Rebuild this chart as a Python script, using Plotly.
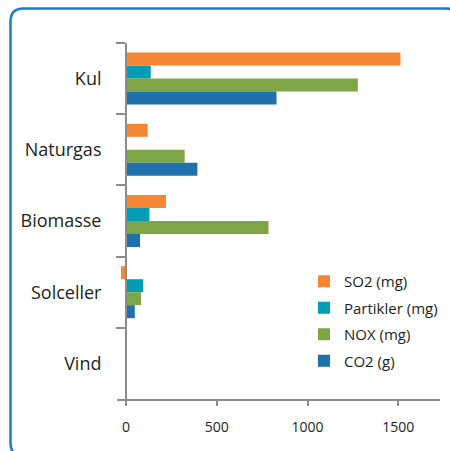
import plotly.graph_objects as go

categories = ["Kul", "Naturgas", "Biomasse", "Solceller", "Vind"]
series_names = ["SO2 (mg)", "Partikler (mg)", "NOX (mg)", "CO2 (g)"]
so2 = [1512, 119, 220, -28, 0]
partikler = [136, 0, 129, 94, 0]
nox = [1277, 323, 785, 83, 0]
co2 = [829, 393, 77, 48, 0]
colors = ["#F58634", "#009DB5", "#7FA646", "#1E71AB"]
x_ticks = [0, 500, 1000, 1500]

W, H = 450, 451
ML, MR, MT, MB = 117, 10, 43, 52
PW, PH = W - ML - MR, H - MT - MB
XMIN, XMAX = -50, 1730


def px(x):
    return (x - ML) / PW


def py(y):
    return (H - MB - y) / PH


fig = go.Figure()
for name, vals, col in zip(series_names, [so2, partikler, nox, co2], colors):
    fig.add_trace(go.Bar(
        y=categories, x=vals, name=name, orientation="h",
        marker=dict(color=col, line=dict(width=0)),
        legendgroup=name,
    ))

zero_pos = (0 - XMIN) / (XMAX - XMIN)
axis_gray = "#8C8C8C"
txt = "#231F20"

# rounded frame (decoration)
L, T, R, B, r = 10.5, 8.5, 459, 456, 13
path = (
    f"M {px(L)},{py(T + r)} Q {px(L)},{py(T)} {px(L + r)},{py(T)} "
    f"L {px(R - r)},{py(T)} Q {px(R)},{py(T)} {px(R)},{py(T + r)} "
    f"L {px(R)},{py(B - r)} Q {px(R)},{py(B)} {px(R - r)},{py(B)} "
    f"L {px(L + r)},{py(B)} Q {px(L)},{py(B)} {px(L)},{py(B - r)} Z"
)
fig.add_shape(type="path", path=path, xref="paper", yref="paper",
              line=dict(color="#1A7DC4", width=2.5), layer="below")

fig.update_layout(
    width=W, height=H, autosize=False,
    margin=dict(l=ML, r=MR, t=MT, b=MB, autoexpand=False),
    paper_bgcolor="white", plot_bgcolor="white",
    barmode="group", bargap=0.27, bargroupgap=0,
    font=dict(family="Open Sans", color=txt),
    showlegend=True,
    legend=dict(x=px(304), y=py(265), xanchor="left", yanchor="top",
                font=dict(size=15, color=txt), tracegroupgap=4,
                traceorder="grouped", bgcolor="rgba(0,0,0,0)"),
    xaxis=dict(range=[XMIN, XMAX], tickvals=x_ticks, ticks="outside",
               ticklen=5, tickwidth=2, tickcolor=axis_gray,
               showline=True, linecolor=axis_gray, linewidth=2,
               showgrid=False, zeroline=False, automargin=False,
               tickfont=dict(size=14, color=txt), ticklabelstandoff=9),
    yaxis=dict(type="category", categoryorder="array", categoryarray=categories,
               autorange="reversed", anchor="free", position=zero_pos,
               ticks="outside", tickson="boundaries", ticklen=9, tickwidth=2,
               tickcolor=axis_gray, showline=True, linecolor=axis_gray,
               linewidth=2, showgrid=False, zeroline=False, automargin=False,
               tickfont=dict(size=18, color=txt), ticklabelstandoff=20),
)

fig.write_html(
    "out.html",
    config={"displayModeBar": False},
    post_script="document.body.style.margin='0';document.body.style.overflow='hidden';",
)
